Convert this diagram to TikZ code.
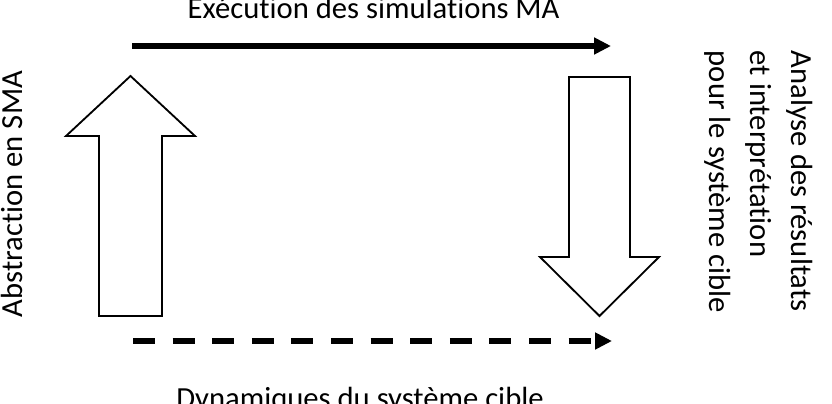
\documentclass[tikz,border=0pt]{standalone}
\usepackage{fontspec}
\setmainfont{Carlito}[Ligatures=NoCommon]
\usetikzlibrary{arrows.meta, positioning}
\tikzset{
  every picture/.style={line width=1.2pt},
  bigarrow/.style={draw=black, fill=white, line width=1.3pt, line join=miter},
  flow/.style={-{Triangle[length=0.42cm, width=0.4cm]}, line width=3.6pt},
  txt/.style={font=\fontsize{21.8}{29.2}\selectfont, inner sep=0pt},
}

\begin{document}
\begin{tikzpicture}
  \useasboundingbox (0,0) rectangle (20.8,-10.1);
  % block arrows
  \draw[bigarrow] (2.475,-7.9) -- (2.475,-3.4) -- (1.65,-3.4) -- (3.2625,-1.9) -- (4.875,-3.4) -- (4.05,-3.4) -- (4.05,-7.9) -- cycle;
  \draw[bigarrow] (14.225,-1.925) -- (15.75,-1.925) -- (15.75,-6.425) -- (16.475,-6.425) -- (14.9875,-7.9) -- (13.5,-6.425) -- (14.225,-6.425) -- cycle;
  % horizontal arrows
  \coordinate (s0) at (3.3,-1.15);
  \coordinate (s1) at (15.275,-1.15);
  \coordinate (d0) at (3.325,-8.525);
  \coordinate (d1) at (15.3,-8.525);
  \draw[flow] (s0) -- (s1);
  \draw[flow, dash pattern=on 0.55cm off 0.44cm] (d0) -- (d1);
  % labels
  \node[txt, anchor=base] (exec) at (9.34,-0.45) {Exécution des simulations MA};
  \node[txt, anchor=base] (dyn) at (9.0,-10.2) {Dynamiques du système cible};
  \node[txt, rotate=90, anchor=base] (abstr) at (0.55,-4.85) {Abstraction en SMA};
  \node[txt, rotate=-90, anchor=west, align=left] (analyse) at (18.975,-1.25) {Analyse des résultats\\et interprétation\\pour le système cible};
\end{tikzpicture}
\end{document}
